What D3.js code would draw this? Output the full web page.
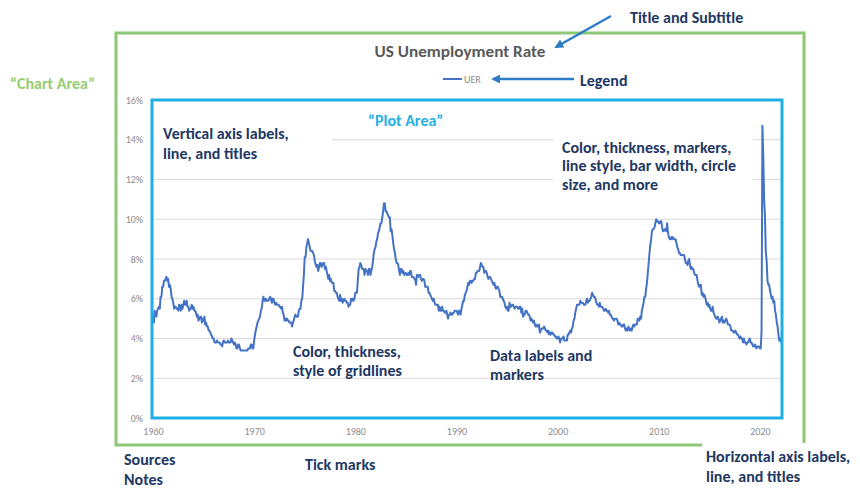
<!DOCTYPE html>
<html>
<head>
<meta charset="utf-8">
<script src="https://cdn.jsdelivr.net/npm/d3@7"></script>
<style>
  body { margin: 0; background: #ffffff; }
  svg { display: block; }
</style>
</head>
<body>
<svg id="chart" width="860" height="492"></svg>
<script>
// ---- data: monthly US unemployment rate (%) ----
const chartTitle = "US Unemployment Rate";
const seriesName = "UER";
const startYear = 1960;

const uer1960s = [
  5.2,4.8,5.4,5.2,5.1,5.4,5.5,5.6,5.5,6.1,6.1,6.6,
  6.6,6.9,6.9,7.0,7.1,6.9,7.0,6.6,6.7,6.5,6.1,6.0,
  5.8,5.5,5.6,5.6,5.5,5.5,5.4,5.7,5.6,5.4,5.7,5.5,
  5.7,5.9,5.7,5.7,5.9,5.6,5.6,5.4,5.5,5.5,5.7,5.5,
  5.6,5.4,5.4,5.3,5.1,5.2,4.9,5.0,5.1,5.1,4.8,5.0,
  4.9,5.1,4.7,4.8,4.6,4.6,4.4,4.4,4.3,4.2,4.1,4.0,
  4.0,3.8,3.8,3.8,3.9,3.8,3.8,3.8,3.7,3.7,3.6,3.8,
  3.9,3.8,3.8,3.8,3.8,3.9,3.8,3.8,3.8,4.0,3.9,3.8,
  3.7,3.8,3.7,3.5,3.5,3.7,3.7,3.5,3.4,3.4,3.4,3.4,
  3.4,3.4,3.4,3.4,3.4,3.5,3.5,3.5,3.7,3.7,3.5,3.5
];
const uer1970s = [
  3.9,4.2,4.4,4.6,4.8,4.9,5.0,5.1,5.4,5.5,5.9,6.1,
  5.9,5.9,6.0,5.9,5.9,5.9,6.0,6.1,6.0,5.8,6.0,6.0,
  5.8,5.7,5.8,5.7,5.7,5.7,5.6,5.6,5.5,5.6,5.3,5.2,
  4.9,5.0,4.9,5.0,4.9,4.9,4.8,4.8,4.8,4.6,4.8,4.9,
  5.1,5.2,5.1,5.1,5.1,5.4,5.5,5.5,5.9,6.0,6.6,7.2,
  8.1,8.1,8.6,8.8,9.0,8.8,8.6,8.4,8.4,8.4,8.3,8.2,
  7.9,7.7,7.6,7.7,7.4,7.6,7.8,7.8,7.6,7.7,7.8,7.8,
  7.5,7.6,7.4,7.2,7.0,7.2,6.9,7.0,6.8,6.8,6.8,6.4,
  6.4,6.3,6.3,6.1,6.0,5.9,6.2,5.9,6.0,5.8,5.9,6.0,
  5.9,5.9,5.8,5.8,5.6,5.7,5.7,6.0,5.9,6.0,5.9,6.0
];
const uer1980s = [
  6.3,6.3,6.3,6.9,7.5,7.6,7.8,7.7,7.5,7.5,7.5,7.2,
  7.5,7.4,7.4,7.2,7.5,7.5,7.2,7.4,7.6,7.9,8.3,8.5,
  8.6,8.9,9.0,9.3,9.4,9.6,9.8,9.8,10.1,10.4,10.8,10.8,
  10.4,10.4,10.3,10.2,10.1,10.1,9.4,9.5,9.2,8.8,8.5,8.3,
  8.0,7.8,7.8,7.7,7.4,7.2,7.5,7.5,7.3,7.4,7.2,7.3,
  7.3,7.2,7.2,7.3,7.2,7.4,7.4,7.1,7.1,7.1,7.0,7.0,
  6.7,7.2,7.2,7.1,7.2,7.2,7.0,6.9,7.0,7.0,6.9,6.6,
  6.6,6.6,6.6,6.3,6.3,6.2,6.1,6.0,5.9,6.0,5.8,5.7,
  5.7,5.7,5.7,5.4,5.6,5.4,5.4,5.6,5.4,5.4,5.3,5.3,
  5.4,5.2,5.0,5.2,5.2,5.3,5.2,5.2,5.3,5.3,5.4,5.4
];
const uer1990s = [
  5.4,5.3,5.2,5.4,5.4,5.2,5.5,5.7,5.9,5.9,6.2,6.3,
  6.4,6.6,6.8,6.7,6.9,6.9,6.8,6.9,6.9,7.0,7.0,7.3,
  7.3,7.4,7.4,7.4,7.6,7.8,7.7,7.6,7.6,7.3,7.4,7.4,
  7.3,7.1,7.0,7.1,7.1,7.0,6.9,6.8,6.7,6.8,6.6,6.5,
  6.6,6.6,6.5,6.4,6.1,6.1,6.1,6.0,5.9,5.8,5.6,5.5,
  5.6,5.4,5.4,5.8,5.6,5.6,5.7,5.7,5.6,5.5,5.6,5.6,
  5.6,5.5,5.5,5.6,5.6,5.3,5.5,5.1,5.2,5.2,5.4,5.4,
  5.3,5.2,5.2,5.1,4.9,5.0,4.9,4.8,4.9,4.7,4.6,4.7,
  4.6,4.6,4.7,4.3,4.4,4.5,4.5,4.5,4.6,4.5,4.4,4.4,
  4.3,4.4,4.2,4.3,4.2,4.3,4.3,4.2,4.2,4.1,4.1,4.0
];
const uer2000s = [
  4.0,4.1,4.0,3.8,4.0,4.0,4.0,4.1,3.9,3.9,3.9,3.9,
  4.2,4.2,4.3,4.4,4.3,4.5,4.6,4.9,5.0,5.3,5.5,5.7,
  5.7,5.7,5.7,5.9,5.8,5.8,5.8,5.7,5.7,5.7,5.9,6.0,
  5.8,5.9,5.9,6.0,6.1,6.3,6.2,6.1,6.1,6.0,5.8,5.7,
  5.7,5.6,5.8,5.6,5.6,5.6,5.5,5.4,5.4,5.5,5.4,5.4,
  5.3,5.4,5.2,5.2,5.1,5.0,5.0,4.9,5.0,5.0,5.0,4.9,
  4.7,4.8,4.7,4.7,4.6,4.6,4.7,4.7,4.5,4.4,4.5,4.4,
  4.6,4.5,4.4,4.5,4.4,4.6,4.7,4.6,4.7,4.7,4.7,5.0,
  5.0,4.9,5.1,5.0,5.4,5.6,5.8,6.1,6.1,6.5,6.8,7.3,
  7.8,8.3,8.7,9.0,9.4,9.5,9.5,9.6,9.8,10.0,9.9,9.9
];
const uer2010s = [
  9.8,9.8,9.9,9.9,9.6,9.4,9.4,9.5,9.5,9.4,9.8,9.3,
  9.1,9.0,9.0,9.1,9.0,9.1,9.0,9.0,9.0,8.8,8.6,8.5,
  8.3,8.3,8.2,8.2,8.2,8.2,8.2,8.0,7.8,7.8,7.7,7.9,
  8.0,7.7,7.5,7.6,7.5,7.5,7.3,7.2,7.2,7.2,6.9,6.7,
  6.6,6.7,6.7,6.2,6.3,6.1,6.2,6.1,5.9,5.7,5.8,5.6,
  5.7,5.5,5.4,5.4,5.6,5.3,5.2,5.1,5.0,5.0,5.1,5.0,
  4.8,4.9,5.0,5.1,4.8,4.9,4.8,4.9,5.0,4.9,4.7,4.7,
  4.7,4.6,4.4,4.4,4.4,4.3,4.3,4.4,4.3,4.2,4.2,4.1,
  4.0,4.1,4.0,4.0,3.8,4.0,3.8,3.8,3.7,3.8,3.8,3.9,
  4.0,3.8,3.8,3.7,3.6,3.6,3.7,3.6,3.5,3.6,3.6,3.6
];
const uer2020s = [
  3.5,3.5,4.4,14.7,13.2,11.0,10.2,8.4,7.9,6.9,6.7,6.7,
  6.4,6.2,6.0,6.1,5.8,5.9,5.4,5.2,4.8,4.6,4.2,3.9,
  4.0,3.8
];

const yearTicks = [1960, 1970, 1980, 1990, 2000, 2010, 2020];
const pctTicks = [0, 2, 4, 6, 8, 10, 12, 14, 16];

// ---- build the monthly series ----
const monthly = [].concat(uer1960s, uer1970s, uer1980s, uer1990s, uer2000s, uer2010s, uer2020s);
const points = monthly.map((v, i) => ({
  date: new Date(startYear + Math.floor(i / 12), i % 12, 1),
  value: v
}));

// ---- layout & style ----
const W = 860, H = 492;
const plot = { left: 152, right: 782, top: 100, bottom: 418 };
const chartBox = { left: 116, top: 33, right: 804, bottom: 445 };
const chartFont = "Carlito, Lato, 'Open Sans', sans-serif";
const noteFont = "Carlito, Lato, 'Open Sans', sans-serif";
const noteColor = "#1f3864";
const arrowColor = "#2e7cc6";
const lineColor = "#4472c4";
const gridColor = "#d9d9d9";
const tickColor = "#8c8c8c";
const plotBorder = "#1eaee6";
const chartBorder = "#8cc878";

const svg = d3.select("#chart");
svg.append("rect").attr("width", W).attr("height", H).attr("fill", "#ffffff");

const x = d3.scaleTime()
  .domain([points[0].date, points[points.length - 1].date])
  .range([plot.left + 1, plot.right - 1]);
const y = d3.scaleLinear().domain([0, 16]).range([plot.bottom, plot.top]);

// gridlines
svg.append("g")
  .selectAll("line")
  .data(pctTicks.filter(t => t > 0 && t < 16))
  .join("line")
  .attr("x1", plot.left).attr("x2", plot.right)
  .attr("y1", d => y(d)).attr("y2", d => y(d))
  .attr("stroke", gridColor).attr("stroke-width", 1);

// white text-box backgrounds that sit over the gridlines
const boxes = [
  [154, 119, 178, 47],
  [553, 126, 200, 72]
];
svg.append("g").selectAll("rect").data(boxes).join("rect")
  .attr("x", d => d[0]).attr("y", d => d[1])
  .attr("width", d => d[2]).attr("height", d => d[3])
  .attr("fill", "#ffffff");

// axes
const yAxis = svg.append("g")
  .attr("transform", `translate(${plot.left},0)`)
  .call(d3.axisLeft(y).tickValues(pctTicks).tickFormat(d => d + "%").tickSize(0).tickPadding(9));
const xAxis = svg.append("g")
  .attr("transform", `translate(0,${plot.bottom})`)
  .call(d3.axisBottom(x)
    .tickValues(yearTicks.map(yr => new Date(yr, 0, 1)))
    .tickFormat(d3.timeFormat("%Y"))
    .tickSize(0).tickPadding(10));
[yAxis, xAxis].forEach(g => {
  g.select(".domain").remove();
  g.attr("font-family", chartFont).attr("font-size", 10);
  g.selectAll("text").attr("fill", tickColor);
});

// the series line
const line = d3.line().x(d => x(d.date)).y(d => y(d.value));
svg.append("path")
  .datum(points)
  .attr("d", line)
  .attr("fill", "none")
  .attr("stroke", lineColor)
  .attr("stroke-width", 2)
  .attr("stroke-linejoin", "round");

// plot-area frame
svg.append("rect")
  .attr("x", plot.left).attr("y", plot.top)
  .attr("width", plot.right - plot.left).attr("height", plot.bottom - plot.top)
  .attr("fill", "none").attr("stroke", plotBorder).attr("stroke-width", 3);

// chart-area frame
svg.append("rect")
  .attr("x", chartBox.left).attr("y", chartBox.top)
  .attr("width", chartBox.right - chartBox.left).attr("height", chartBox.bottom - chartBox.top)
  .attr("fill", "none").attr("stroke", chartBorder).attr("stroke-width", 3);

// title
svg.append("text")
  .attr("x", (chartBox.left + chartBox.right) / 2).attr("y", 52).attr("dy", "0.35em")
  .attr("text-anchor", "middle")
  .attr("font-family", chartFont).attr("font-size", 15).attr("font-weight", 700)
  .attr("fill", "#595959")
  .attr("textLength", 171).attr("lengthAdjust", "spacingAndGlyphs")
  .text(chartTitle);

// legend
const legend = svg.append("g").attr("transform", "translate(443,79)");
legend.append("line").attr("x1", 0).attr("x2", 19).attr("stroke", lineColor).attr("stroke-width", 2);
legend.append("text").attr("x", 21).attr("dy", "0.35em")
  .attr("font-family", chartFont).attr("font-size", 10).attr("fill", tickColor)
  .text(seriesName);

// ---- annotation layer ----
// pick a bold size whose run length suits the callout boxes
const probe = svg.append("text")
  .attr("font-family", noteFont).attr("font-size", 14).attr("font-weight", 700)
  .text("Color, thickness, markers,");
const noteSize = Math.max(12, Math.min(16, 14 * 177 / probe.node().getComputedTextLength()));
probe.remove();

// box covering the lower-right corner of the chart frame
svg.append("rect").attr("x", 702).attr("y", 443).attr("width", 158).attr("height", 49).attr("fill", "#ffffff");

function note(lines, x0, cy, color, lh = 19.5) {
  lines.forEach((t, i) => {
    svg.append("text")
      .attr("x", x0).attr("y", cy + i * lh).attr("dy", "0.35em")
      .attr("font-family", noteFont).attr("font-size", noteSize).attr("font-weight", 700)
      .attr("fill", color)
      .text(t);
  });
}

note(["Title and Subtitle"], 630, 17, noteColor);
note(["Legend"], 580, 80, noteColor);
note(["\u201CChart Area\u201D"], 10, 83, "#96cc70");
note(["\u201CPlot Area\u201D"], 368, 120, "#22b0e6");
note(["Vertical axis labels,", "line, and titles"], 163, 133, noteColor, 20);
note(["Color, thickness, markers,", "line style, bar width, circle", "size, and more"], 562, 147, noteColor, 18.5);
note(["Color, thickness,", "style of gridlines"], 293, 351, noteColor);
note(["Data labels and", "markers"], 490, 355, noteColor);
note(["Sources", "Notes"], 124, 459, noteColor, 20);
note(["Tick marks"], 305, 464, noteColor);
note(["Horizontal axis labels,", "line, and titles"], 706, 456, noteColor, 20);

// arrows
const defs = svg.append("defs");
defs.append("marker")
  .attr("id", "arrowHead").attr("viewBox", "0 0 10 10")
  .attr("refX", 8).attr("refY", 5)
  .attr("markerWidth", 3.6).attr("markerHeight", 3.6)
  .attr("orient", "auto")
  .append("path").attr("d", "M0,0L10,5L0,10z").attr("fill", arrowColor);

const arrows = [
  [611, 16, 556, 47],
  [574, 79, 493, 79]
];
svg.append("g").selectAll("line").data(arrows).join("line")
  .attr("x1", d => d[0]).attr("y1", d => d[1])
  .attr("x2", d => d[2]).attr("y2", d => d[3])
  .attr("stroke", arrowColor).attr("stroke-width", 2.5)
  .attr("marker-end", "url(#arrowHead)");
</script>
</body>
</html>
